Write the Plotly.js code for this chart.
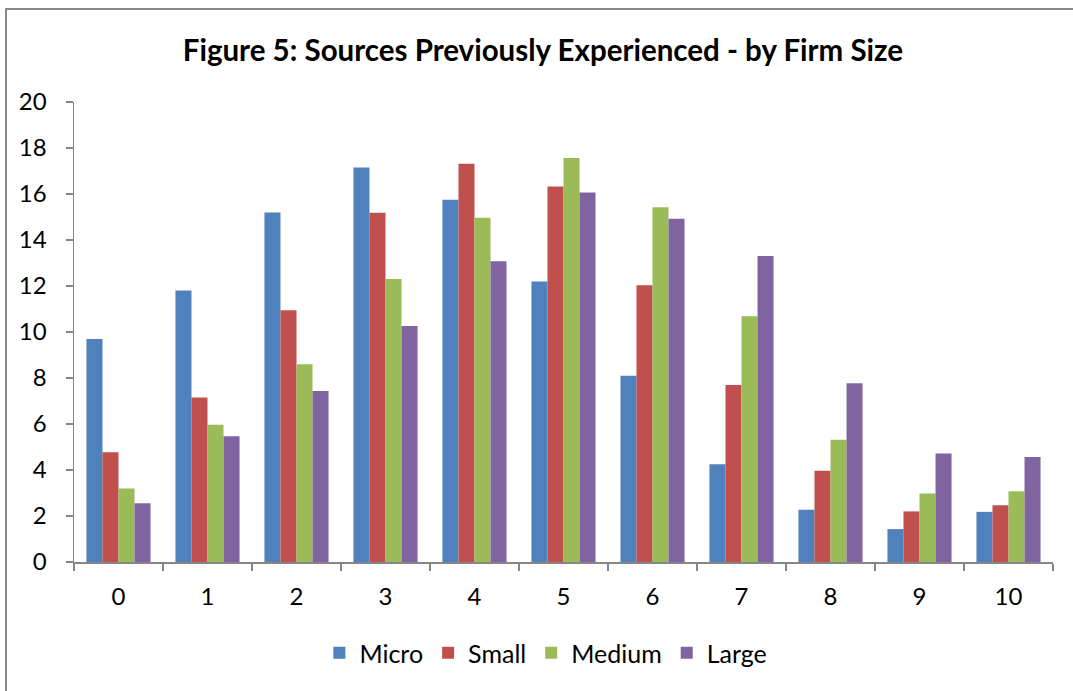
<!DOCTYPE html>
<html><head><meta charset="utf-8">
<script src="https://cdn.plot.ly/plotly-3.0.1.min.js"></script>
<style>
html,body{margin:0;padding:0;background:#fff;overflow:hidden;}
#frame{position:absolute;left:5px;top:8px;width:1100px;height:720px;border-left:2px solid #898989;border-top:2px solid #898989;}
#chart{position:absolute;left:0;top:0;width:1073px;height:691px;}
</style></head>
<body>
<div id="frame"></div>
<div id="chart"></div>
<script>
const categories = ["0","1","2","3","4","5","6","7","8","9","10"];
const micro  = [9.7, 11.8, 15.2, 17.15, 15.75, 12.2, 8.1, 4.25, 2.27, 1.43, 2.18];
const small  = [4.77, 7.15, 10.95, 15.18, 17.32, 16.33, 12.03, 7.7, 3.97, 2.2, 2.47];
const medium = [3.2, 5.97, 8.6, 12.3, 14.97, 17.57, 15.42, 10.68, 5.32, 2.98, 3.08];
const large  = [2.55, 5.47, 7.43, 10.26, 13.08, 16.07, 14.92, 13.3, 7.77, 4.72, 4.57];
const seriesNames = ["Micro","Small","Medium","Large"];
const colors = ["#4F81BD","#C0504D","#9BBB59","#8064A2"];
const yTicks = [0,2,4,6,8,10,12,14,16,18,20];

const values = [micro, small, medium, large];
const data = values.map((v,i)=>({
  type:'bar', name:seriesNames[i], x:categories, y:v,
  marker:{color:colors[i], line:{width:0}}
}));

const font = "Lato, 'Open Sans', sans-serif";
const layout = {
  width:1073, height:691,
  paper_bgcolor:'rgba(0,0,0,0)', plot_bgcolor:'rgba(0,0,0,0)',
  margin:{l:74, r:20, t:101.5, b:128.5},
  title:{text:'<b>Figure 5: Sources Previously Experienced - by Firm Size</b>',
    font:{family:font, size:29.5, color:'#000'}, x:0.506, xanchor:'center', y:0.926, yanchor:'middle'},
  barmode:'group', bargap:0.28, bargroupgap:0,
  showlegend:true,
  legend:{orientation:'h', x:0.482, xanchor:'center', y:-0.198, yanchor:'middle',
    font:{family:font, size:25, color:'#000'}, itemwidth:30, traceorder:'normal'},
  xaxis:{type:'category', showgrid:false, zeroline:false, showline:true, linecolor:'#868686', linewidth:1.5,
    ticks:'outside', tickson:'boundaries', ticklen:7, tickcolor:'#868686', tickwidth:1.5,
    tickfont:{family:font, size:24, color:'#000'}, ticklabelstandoff:13, fixedrange:true},
  yaxis:{range:[0,20], tickvals:yTicks, ticktext:yTicks.map(String), showgrid:false, zeroline:false,
    showline:true, linecolor:'#868686', linewidth:1.5, ticks:'outside', ticklen:7, tickcolor:'#868686', tickwidth:1.5,
    tickfont:{family:font, size:24, color:'#000'}, ticklabelstandoff:14}
};
Plotly.newPlot('chart', data, layout, {displayModeBar:false, staticPlot:true});
</script>
</body></html>
